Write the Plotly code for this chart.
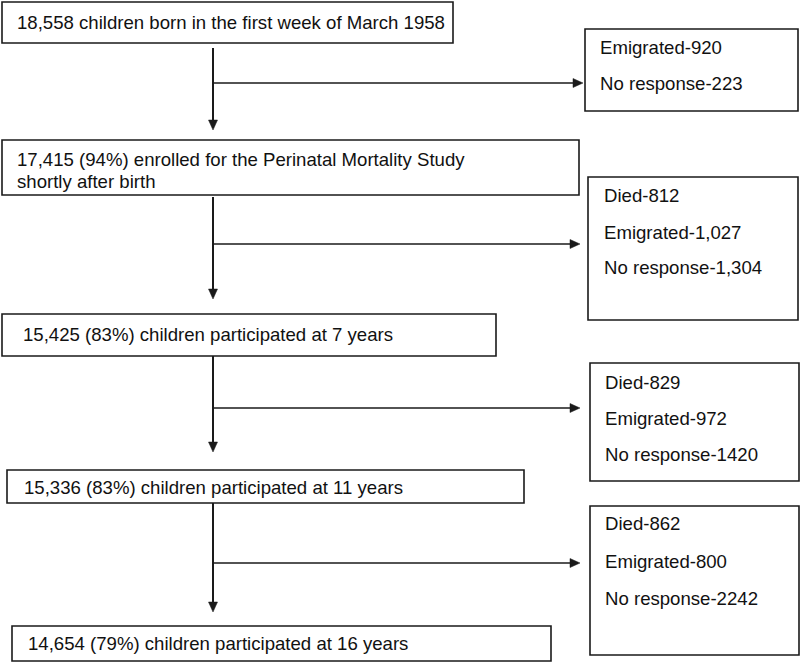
import plotly.graph_objects as go

# ---- content (text of the flow chart) ----
stage_labels = [
    ["18,558 children born in the first week of March 1958"],
    ["17,415 (94%) enrolled for the Perinatal Mortality Study", "shortly after birth"],
    ["15,425 (83%) children participated at 7 years"],
    ["15,336 (83%) children participated at 11 years"],
    ["14,654 (79%) children participated at 16 years"],
]
loss_labels = [
    ["Emigrated-920", "No response-223"],
    ["Died-812", "Emigrated-1,027", "No response-1,304"],
    ["Died-829", "Emigrated-972", "No response-1420"],
    ["Died-862", "Emigrated-800", "No response-2242"],
]

# ---- layout geometry (pixels, y downward) ----
stage_boxes = [(2, 2, 453, 43), (2, 140, 579, 195), (2, 314, 496, 356),
               (7, 470, 524, 503), (12, 626, 551, 661)]
stage_text_x = [15, 15, 21, 22, 26]
stage_text_y = [[22], [159, 181], [334], [487], [643]]

loss_boxes = [(585, 29, 798, 111), (588, 177, 798, 320),
              (590, 363, 799, 481), (590, 506, 799, 655)]
loss_text_x = [598, 602, 603, 603]
loss_text_y = [[47, 83], [195, 232, 267], [382, 418, 454], [523, 561, 598]]

trunk_x = 213
trunk_spans = [(48, 130), (197, 299), (356, 452), (503, 612)]
branch_y = [83, 244, 408, 563]
branch_tip = [583, 580, 580, 580]

INK = "#1a1a1a"
FONT = "Liberation Sans, Arial, Helvetica, sans-serif"
FONT_SIZE = 18.6

fig = go.Figure()
shapes = []
annotations = []

for (x0, y0, x1, y1) in stage_boxes + loss_boxes:
    shapes.append(dict(type="rect", x0=x0, y0=y0, x1=x1, y1=y1,
                       line=dict(color=INK, width=1.6), fillcolor="white", layer="below"))

ah_len, ah_half = 10, 4.5
for (ya, yb), by, tip in zip(trunk_spans, branch_y, branch_tip):
    # vertical trunk
    shapes.append(dict(type="line", x0=trunk_x, y0=ya, x1=trunk_x, y1=yb - ah_len + 1,
                       line=dict(color=INK, width=2)))
    shapes.append(dict(type="path",
                       path=f"M {trunk_x - ah_half} {yb - ah_len} L {trunk_x + ah_half} {yb - ah_len} L {trunk_x} {yb} Z",
                       fillcolor=INK, line=dict(color=INK, width=0.5)))
    # horizontal branch
    shapes.append(dict(type="line", x0=trunk_x, y0=by, x1=tip - ah_len + 1, y1=by,
                       line=dict(color=INK, width=1.5)))
    shapes.append(dict(type="path",
                       path=f"M {tip - ah_len} {by - ah_half} L {tip - ah_len} {by + ah_half} L {tip} {by} Z",
                       fillcolor=INK, line=dict(color=INK, width=0.5)))

def add_text(x, y, s):
    annotations.append(dict(x=x, y=y, xref="x", yref="y", text=s, showarrow=False,
                            xanchor="left", yanchor="middle",
                            font=dict(family=FONT, size=FONT_SIZE, color="#111111")))

for lines, tx, tys in zip(stage_labels, stage_text_x, stage_text_y):
    for s, ty in zip(lines, tys):
        add_text(tx, ty, s)
for lines, tx, tys in zip(loss_labels, loss_text_x, loss_text_y):
    for s, ty in zip(lines, tys):
        add_text(tx, ty, s)

fig.update_layout(
    width=800, height=663,
    margin=dict(l=0, r=0, t=0, b=0),
    paper_bgcolor="white", plot_bgcolor="white",
    xaxis=dict(range=[0, 800], visible=False, fixedrange=True),
    yaxis=dict(range=[663, 0], visible=False, fixedrange=True),
    shapes=shapes, annotations=annotations, showlegend=False,
)
fig.write_html("out.html", config={"displayModeBar": False},
               post_script="document.body.style.margin='0';document.body.style.overflow='hidden';")
